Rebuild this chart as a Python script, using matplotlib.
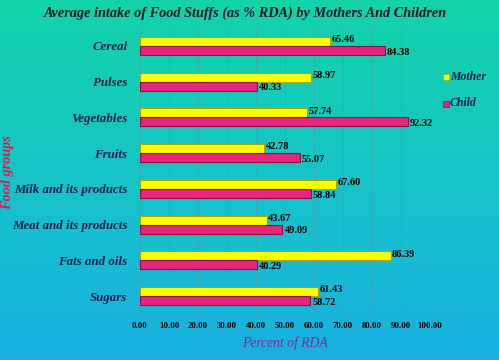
import numpy as np
import matplotlib
matplotlib.use('Agg')
import matplotlib.pyplot as plt
from matplotlib.colors import LinearSegmentedColormap

categories = ['Cereal', 'Pulses', 'Vegetables', 'Fruits', 'Milk and its products',
              'Meat and its products', 'Fats and oils', 'Sugars']
mother = [65.46, 58.97, 57.74, 42.78, 67.60, 43.67, 86.39, 61.43]
child = [84.38, 40.33, 92.32, 55.07, 58.84, 49.09, 40.29, 58.72]
xticks = [0, 10, 20, 30, 40, 50, 60, 70, 80, 90, 100]

serif = 'Liberation Serif'
navy = '#0d1f4a'

fig = plt.figure(figsize=(4.99, 3.6), dpi=100)

# background gradient
bg = fig.add_axes([0, 0, 1, 1], zorder=-10)
cmap = LinearSegmentedColormap.from_list('bg', ['#12d3a8', '#16c4c8', '#1ab0e2'])
grad = np.linspace(0, 1, 256).reshape(-1, 1)
bg.imshow(grad, aspect='auto', cmap=cmap, extent=[0, 1, 0, 1])
bg.axis('off')

ax = fig.add_axes([140/499, 1-314/360, 290/499, 286/360])
ax.patch.set_alpha(0)

y = np.arange(len(categories))
h = 0.25
ax.barh(y - h/2, mother, height=h, color='#ffff00', edgecolor='#a8a800', linewidth=0.8, zorder=3)
ax.barh(y + h/2, child, height=h, color='#e8247c', edgecolor='#8a0f45', linewidth=0.8, zorder=3)

for i in range(len(categories)):
    ax.text(mother[i] + 0.5, y[i] - h*0.7, '%.2f' % mother[i], fontsize=7.5, fontweight='bold',
            family=serif, ha='left', va='center', zorder=4)
    ax.text(child[i] + 0.8, y[i] + h*0.7, '%.2f' % child[i], fontsize=7.5, fontweight='bold',
            family=serif, ha='left', va='center', zorder=4)

ax.set_ylim(len(categories) - 0.5, -0.5)
ax.set_xlim(0, 100)
ax.set_xticks(xticks)
ax.set_xticklabels(['%.2f' % v for v in xticks], fontsize=6.3, fontweight='bold', family=serif)
ax.set_yticks(y)
ax.set_yticklabels(categories, fontsize=9.3, fontweight='bold', style='italic', family=serif, color=navy)
ax.tick_params(length=0, pad=9)
ax.tick_params(axis='x', pad=6)
for s in ax.spines.values():
    s.set_visible(False)
ax.grid(axis='x', color='#4f9c9c', linewidth=0.6, alpha=0.6, zorder=0)

ax.set_xlabel('Percent of RDA', fontsize=9.8, style='italic', family=serif, color='#7030a0', labelpad=4)
fig.text(8/499, 1-173/360, 'Food groups', rotation=90, fontsize=10.3, fontweight='bold', style='italic',
         family=serif, color='#e01a4f', ha='center', va='center')

fig.text(0.491, 0.963, 'Average intake of Food Stuffs (as % RDA) by Mothers And Children',
         fontsize=10.3, fontweight='bold', style='italic', family=serif, color='#101820',
         ha='center', va='center')

# legend
for yy, col, ec, lab in [(76.5, '#ffff00', '#a8a800', 'Mother'), (103.5, '#e8247c', '#8a0f45', 'Child')]:
    fig.patches.append(plt.Rectangle((443/499, 1-(yy+3)/360), 5.5/499, 5.5/360, facecolor=col,
                                     edgecolor=ec, linewidth=0.5, transform=fig.transFigure))
    fig.text(450/499, 1-yy/360, lab, fontsize=8.5, fontweight='bold', style='italic',
             family=serif, color=navy, ha='left', va='center')

fig.savefig('out.png', dpi=100)
